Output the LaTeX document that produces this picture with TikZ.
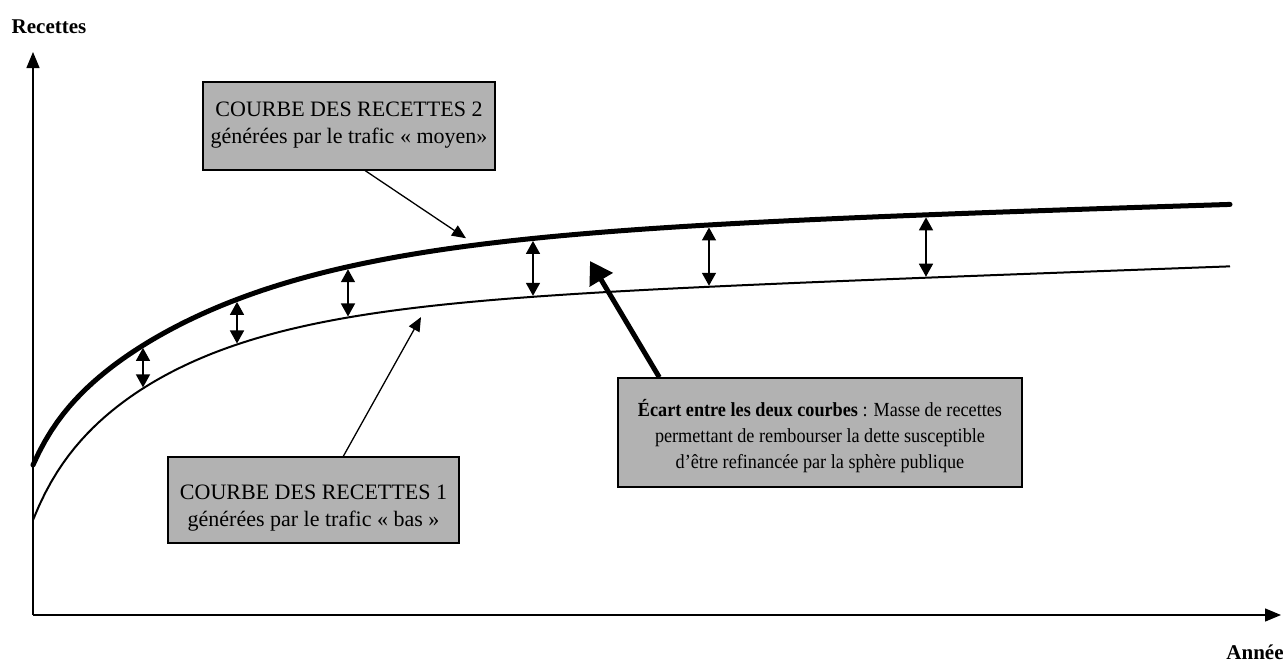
\documentclass[tikz,border=0pt]{standalone}
\usepackage{fontspec}
\setmainfont{Liberation Serif}
\newfontfamily\notefont[FakeStretch=0.91]{Liberation Serif}
\usetikzlibrary{arrows.meta}
\begin{document}
\begin{tikzpicture}[x=1pt,y=-1pt,
  declare function={
    fu(\t)=465-30*(1-exp(-(\t-33)/25))-195*(1-exp(-(\t-33)/187))-0.03*(\t-33);
    fl(\t)=520-30*(1-exp(-(\t-33)/25))-180*(1-exp(-(\t-33)/140))-0.0365*(\t-33);
  },
  axis/.style={line width=1.4pt,-{Triangle[length=16pt,width=13pt]}},
  gap/.style={line width=1.5pt,{Triangle[length=13pt,width=14pt]}-{Triangle[length=13pt,width=14pt]}},
  leader/.style={line width=1.3pt,-{Triangle[length=14pt,width=12pt]}},
  bigarrow/.style={line width=5pt,-{Triangle[length=22pt,width=26pt]}},
  greybox/.style={draw,line width=1.4pt,fill=black!30,inner sep=0pt},
  boxtext/.style={align=center,inner sep=0pt,font=\fontsize{22}{27}\selectfont},
  notetext/.style={align=center,inner sep=0pt,font=\notefont\fontsize{20}{26}\selectfont},
  axlabel/.style={font=\fontsize{21}{24}\selectfont\bfseries}]
\useasboundingbox (0,0) rectangle (1283,664);

% axes
\coordinate (O) at (33,615);
\coordinate (ytip) at (33,52);
\coordinate (xtip) at (1281,615);
\draw[axis] (O) -- (ytip);
\draw[axis] (O) -- (xtip);
\node[axlabel] (ylab) at (49,27) {Recettes};
\node[axlabel] (xlab) at (1255,652) {Année};

% revenue curves
\draw[line width=5pt,line cap=round] plot[domain=33:1230,samples=200] (\x,{fu(\x)});
\draw[line width=2pt] plot[domain=33:1230,samples=200] (\x,{fl(\x)});

% gaps between the two curves
\foreach \x in {143,237,348,533,709,926}{
  \coordinate (t\x) at (\x,{fu(\x)+2.5});
  \coordinate (b\x) at (\x,{fl(\x)-1});
  \draw[gap] (t\x) -- (b\x);
}

% boxes
\node[greybox,minimum width=292pt,minimum height=88pt] (c2) at (349,126) {};
\node[boxtext] (c2t) at (349,125) {COURBE DES RECETTES 2\\générées par le trafic « moyen»};
\node[greybox,minimum width=291pt,minimum height=86pt] (c1) at (313.5,500) {};
\node[boxtext] (c1t) at (313.5,508) {COURBE DES RECETTES 1\\générées par le trafic « bas »};
\node[greybox,minimum width=404pt,minimum height=109pt] (c3) at (820,432.5) {};
\node[notetext] (c3t) at (820,436.5)
  {\textbf{Écart entre les deux courbes} : Masse de recettes\\
   permettant de rembourser la dette susceptible\\
   d’être refinancée par la sphère publique};

% pointers
\coordinate (p2) at (466,{fu(466)-8});
\coordinate (p1) at (421,{fl(421)+10});
\coordinate (p3) at (590,261);
\draw[leader] (c2.south west) ++(163,0) coordinate (s2) -- (p2);
\draw[leader] (c1.north west) ++(176,0) coordinate (s1) -- (p1);
\draw[bigarrow] (c3.north west) ++(42,0) coordinate (s3) -- (p3);
\end{tikzpicture}
\end{document}
